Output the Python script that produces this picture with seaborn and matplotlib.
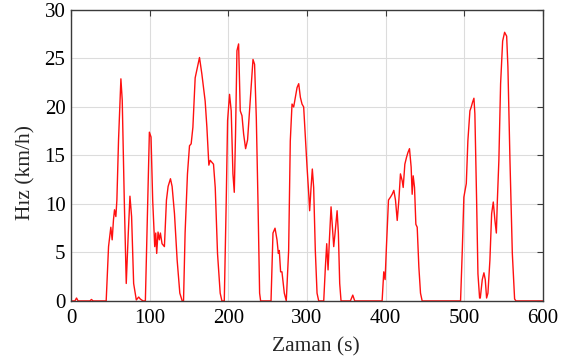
import matplotlib
matplotlib.use("Agg")
import matplotlib.pyplot as plt
import seaborn as sns
import pandas as pd

# Speed profile of the driving cycle: time (s) and speed (km/h)
zaman = [0, 5, 7, 9, 24, 26, 28, 44.7, 47.7, 50.6, 52.3, 54, 55.3, 57, 58.3, 60.4,
         63.4, 65.1, 67.7, 70.2, 72.8, 74.9, 77, 79.6, 83, 86, 88, 91.5, 94.5, 96.6,
         99.6, 101.7, 103.8, 106.4, 107.7, 108.9, 110.6, 112.3, 113.6, 115.7, 118.7,
         121.3, 123.4, 126.4, 128.5, 131.5, 134.9, 138.3, 141.3, 143, 145, 148, 150.6,
         152.7, 154.9, 157.8, 163.3, 166.3, 170.5, 172.7, 175.2, 176.9, 181.1, 183.3,
         186.2, 189.6, 191.8, 194.8, 197.3, 199, 201.5, 203.6, 205.8, 207.5, 209.1,
         210.9, 213, 215.1, 217.3, 219.4, 221.9, 224.4, 227.8, 231.3, 233.3, 235.5,
         237.6, 239.7, 241, 254.2, 256.7, 259.3, 261.8, 263.5, 264.7, 266.4, 268.1,
         271.1, 273.6, 276.6, 278.7, 280.9, 283, 285.1, 287.3, 289.4, 291.5, 293.6,
         295.7, 297.8, 300, 302.1, 303.3, 305.1, 306.7, 308.4, 310.5, 312.7, 314.8,
         321.2, 323.3, 325, 326.7, 328.4, 330.5, 332.2, 333.9, 335.6, 338.2, 339.8,
         341.5, 343.2, 355.1, 358.1, 360.6, 395.4, 397.5, 399.2, 400.9, 403.5, 406,
         408.2, 410.3, 412.4, 414.6, 416.7, 418.7, 420.9, 422.2, 424.3, 426.4, 428.2,
         430.2, 432.3, 433.6, 434.9, 436.6, 438.3, 440, 442.1, 444.2, 446.3, 495.1,
         497.3, 499.3, 502.4, 504.4, 507, 508.7, 510.4, 512.1, 513.3, 515.5, 517.2,
         519.3, 520.2, 522.7, 524.8, 526.5, 528.2, 529.9, 532.4, 534.6, 536.7, 538.8,
         540.6, 541.9, 543.8, 546, 548.6, 551.1, 553.7, 555.3, 557.9, 560.9, 563.8,
         565.5, 600]
hiz = [0, 0, 0.3, 0, 0, 0.15, 0, 0, 5.6, 7.6, 6.3, 8.4, 9.4, 8.7, 10.4, 16.6,
       22.9, 20.7, 10.4, 1.8, 7.0, 10.8, 8.7, 1.8, 0.1, 0.4, 0.2, 0, 0, 7.0,
       17.4, 16.9, 10.4, 5.6, 7.0, 4.9, 7.1, 6.3, 7.0, 5.9, 5.6,
       10.4, 11.8, 12.6, 11.8, 9.0, 4.2, 0.8, 0, 0, 7.0, 13.1, 16.0,
       16.2, 17.9, 23.0, 25.1, 23.4, 20.6, 17.9, 14.0, 14.5, 14.1, 11.7,
       4.9, 0.8, 0, 0, 10.4, 18.6, 21.3, 19.6, 13.1, 11.2, 17.2,
       25.8, 26.5, 19.6, 19.1, 17.2, 15.7, 16.6, 20.7, 24.9, 24.4, 18.9,
       10.4, 0.8, 0, 0, 7.0, 7.5, 6.3, 4.9, 5.2, 3.0, 3.0,
       0.8, 0, 5.2, 16.5, 20.3, 20.0, 21.0, 22.0, 22.4, 21.0, 20.3,
       20.0, 16.9, 13.8, 11.1, 9.3, 11.7, 13.6, 11.7, 5.2, 0.8, 0,
       0, 3.5, 5.9, 3.2, 6.3, 9.7, 7.6, 5.6, 7.0, 9.3, 7.0,
       1.8, 0, 0, 0.6, 0, 0, 3.0, 2.2, 5.6, 10.4, 10.7,
       11.0, 11.4, 10.4, 8.3, 10.4, 13.1, 12.4, 11.7, 14.1, 14.8, 15.3,
       15.7, 13.8, 11.0, 12.9, 11.7, 7.9, 7.6, 3.5, 0.8, 0, 0,
       5.2, 10.7, 12.1, 16.5, 19.6, 20.0, 20.5, 20.9, 19.3, 10.4, 2.8,
       0.3, 0.3, 2.2, 2.9, 2.2, 0.3, 0.8, 4.2, 9.0, 10.2, 8.3,
       7.0, 10.4, 14.5, 22.4, 26.8, 27.7, 27.3, 24.1, 14.5, 4.9, 0.2,
       0, 0]

x_ticks = [0, 100, 200, 300, 400, 500, 600]
y_ticks = [0, 5, 10, 15, 20, 25, 30]

df = pd.DataFrame({"Zaman": zaman, "Hiz": hiz})

sns.set_style("whitegrid")
plt.rcParams["font.family"] = ["Liberation Serif", "DejaVu Serif"]

fig = plt.figure(figsize=(5.75, 3.63), dpi=100)
ax = fig.add_axes([0.1235, 0.171, 0.821, 0.8015])

sns.lineplot(data=df, x="Zaman", y="Hiz", color="#ff1010", linewidth=1.0,
             ax=ax, sort=False, estimator=None)

ax.set_xlim(0, 600)
ax.set_ylim(0, 30)
ax.set_xticks(x_ticks)
ax.set_yticks(y_ticks)
ax.grid(True, color="#dcdcdc", linewidth=0.8)
for s in ax.spines.values():
    s.set_visible(True)
    s.set_color("#3a3a3a")
    s.set_linewidth(1.0)
ax.tick_params(direction="in", length=4, width=0.8, color="#3a3a3a",
               top=True, right=True, labelsize=15, labelcolor="black", pad=4)
ax.tick_params(axis="x", pad=6)
ax.set_xlabel("Zaman (s)", fontsize=15.5)
ax.set_ylabel("Hız (km/h)", fontsize=15.5)
ax.xaxis.set_label_coords(0.519, -0.125)
ax.yaxis.set_label_coords(-0.076, 0.44)

fig.savefig("out.png", dpi=100)
